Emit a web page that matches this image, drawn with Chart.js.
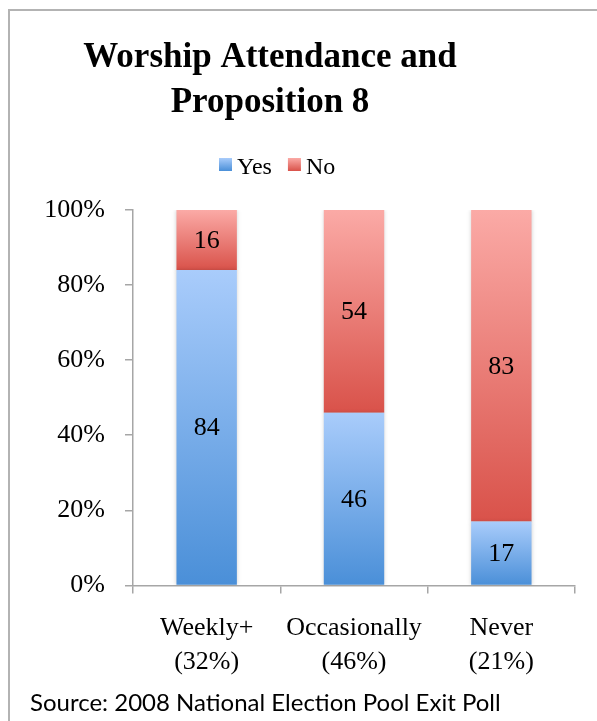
<!DOCTYPE html>
<html>
<head>
<meta charset="utf-8">
<script src="https://cdn.jsdelivr.net/npm/chart.js@4.4.1/dist/chart.umd.min.js"></script>
<style>
  html, body { margin: 0; padding: 0; background: #fff; }
  #wrap { width: 597px; height: 721px; }
</style>
</head>
<body>
<div id="wrap"><canvas id="chart" width="597" height="721"></canvas></div>
<script>
const titleLines = ["Worship Attendance and", "Proposition 8"];
const categories = [["Weekly+", "(32%)"], ["Occasionally", "(46%)"], ["Never", "(21%)"]];
const seriesNames = ["Yes", "No"];
const yesValues = [84, 46, 17];
const noValues = [16, 54, 83];
const yTicks = [0, 20, 40, 60, 80, 100];
const sourceText = "Source: 2008 National Election Pool Exit Poll";

const serif = "'Liberation Serif', 'Times New Roman', serif";
const blue = ["#a9ccfb", "#4a8fd8"];
const red = ["#fbaaa6", "#d9524a"];

// vertical gradient for each stacked segment, light at top, dark at bottom
function segmentFill(colors) {
  return (ctx) => {
    let mid = colors[1];
    if (ctx.type !== "data") return mid;
    let chart = ctx.chart;
    let y = chart.scales.y;
    if (!chart.chartArea || !y) return mid;
    let start = 0;
    for (let i = 0; i < ctx.datasetIndex; i++) {
      start += chart.data.datasets[i].data[ctx.dataIndex];
    }
    let top = y.getPixelForValue(start + ctx.raw);
    let bottom = y.getPixelForValue(start);
    if (!isFinite(top) || !isFinite(bottom) || top === bottom) return mid;
    let g = chart.ctx.createLinearGradient(0, top, 0, bottom);
    g.addColorStop(0, colors[0]);
    g.addColorStop(1, colors[1]);
    return g;
  };
}

// frame, title, legend and source note
const header = {
  id: "header",
  beforeDraw(chart) {
    let c = chart.ctx;
    c.save();
    c.fillStyle = "#fff";
    c.fillRect(0, 0, chart.width, chart.height);
    c.strokeStyle = "#b3b3b3";
    c.lineWidth = 2;
    c.strokeRect(9, 10, chart.width + 20, chart.height + 20);
    c.restore();
  },
  afterDraw(chart) {
    let c = chart.ctx;
    c.save();
    c.fillStyle = "#000";
    c.textAlign = "center";
    c.textBaseline = "alphabetic";
    c.font = "bold 35px " + serif;
    c.fillText(titleLines[0], 270, 67);
    c.fillText(titleLines[1], 270, 112);

    // legend
    c.font = "24px " + serif;
    c.textAlign = "left";
    let x = 219;
    [blue, red].forEach((colors, i) => {
      let g = c.createLinearGradient(0, 158, 0, 171);
      g.addColorStop(0, colors[0]);
      g.addColorStop(1, colors[1]);
      c.fillStyle = g;
      c.fillRect(x, 158, 13, 13);
      c.fillStyle = "#000";
      c.fillText(seriesNames[i], x + 18, 174);
      x += 18 + c.measureText(seriesNames[i]).width + 16;
    });

    c.font = "24px Lato, 'Open Sans', sans-serif";
    c.textBaseline = "middle";
    c.fillText(sourceText, 30, 703);
    c.restore();
  },
};

const shadow = {
  id: "shadow",
  beforeDatasetsDraw(chart) {
    chart.ctx.save();
    chart.ctx.shadowColor = "rgba(0,0,0,0.18)";
    chart.ctx.shadowBlur = 4;
  },
  afterDatasetsDraw(chart) {
    chart.ctx.restore();
  },
};

const valueLabels = {
  id: "valueLabels",
  afterDatasetsDraw(chart) {
    let c = chart.ctx;
    c.save();
    c.fillStyle = "#000";
    c.font = "26px " + serif;
    c.textAlign = "center";
    c.textBaseline = "middle";
    chart.data.datasets.forEach((ds, di) => {
      chart.getDatasetMeta(di).data.forEach((bar, i) => {
        c.fillText(ds.data[i], bar.x, (bar.y + bar.base) / 2 + 1);
      });
    });
    c.restore();
  },
};

new Chart(document.getElementById("chart"), {
  type: "bar",
  data: {
    labels: categories,
    datasets: [
      { label: seriesNames[0], data: yesValues, backgroundColor: segmentFill(blue) },
      { label: seriesNames[1], data: noValues, backgroundColor: segmentFill(red) },
    ],
  },
  options: {
    responsive: false,
    animation: false,
    devicePixelRatio: 1,
    categoryPercentage: 1,
    barPercentage: 0.41,
    layout: { padding: { left: 0, right: 22, top: 210, bottom: 24 } },
    plugins: {
      title: { display: false },
      legend: { display: false },
      tooltip: { enabled: false },
    },
    scales: {
      x: {
        stacked: true,
        grid: {
          display: true,
          drawOnChartArea: false,
          drawTicks: true,
          tickLength: 8,
          color: "#a6a6a6",
          lineWidth: 1.5,
        },
        border: { display: true, color: "#a6a6a6", width: 1.5 },
        ticks: {
          color: "#000",
          font: { family: serif, size: 26, lineHeight: 1.3 },
          padding: 18,
          maxRotation: 0,
        },
      },
      y: {
        stacked: true,
        min: 0,
        max: 100,
        afterBuildTicks(scale) {
          scale.ticks = yTicks.map((v) => ({ value: v }));
        },
        afterFit(scale) {
          scale.width = 133;
        },
        grid: {
          display: true,
          drawOnChartArea: false,
          drawTicks: true,
          tickLength: 8,
          color: "#a6a6a6",
          lineWidth: 1.5,
        },
        border: { display: true, color: "#a6a6a6", width: 1.5 },
        ticks: {
          color: "#000",
          font: { family: serif, size: 26 },
          padding: 20,
          callback: (v) => v + "%",
        },
      },
    },
  },
  plugins: [header, shadow, valueLabels],
});
</script>
</body>
</html>
